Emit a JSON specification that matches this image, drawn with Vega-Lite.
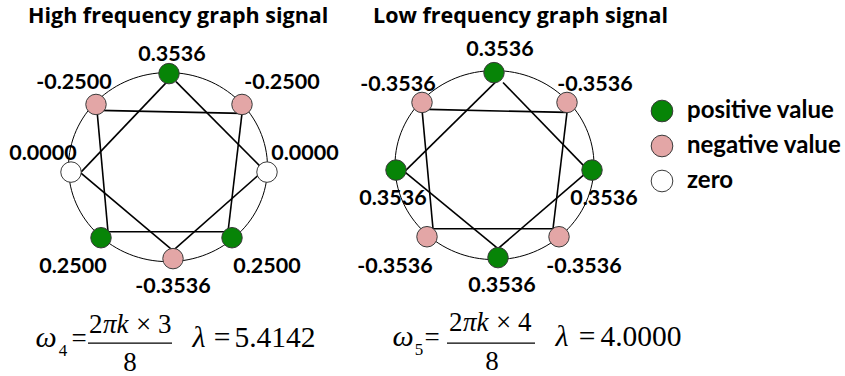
{
  "$schema": "https://vega.github.io/schema/vega-lite/v6.json",
  "width": 845,
  "height": 376,
  "padding": 0,
  "autosize": {"type": "fit", "contains": "padding"},
  "background": "#ffffff",
  "config": {"view": {"stroke": null}},
  "datasets": {
    "rings": [
      {"panel": "high", "x": 168, "y": 168},
      {"panel": "low", "x": 494.5, "y": 166}
    ],
    "edges": [
      {"panel": "high", "x": 99, "y": 111, "x2": 242, "y2": 114},
      {"panel": "high", "x": 242, "y": 114, "x2": 228, "y2": 233},
      {"panel": "high", "x": 228, "y": 233, "x2": 108, "y2": 233},
      {"panel": "high", "x": 108, "y": 233, "x2": 97, "y2": 111},
      {"panel": "high", "x": 171, "y": 78, "x2": 81, "y2": 173},
      {"panel": "high", "x": 176, "y": 82, "x2": 263, "y2": 170},
      {"panel": "high", "x": 263, "y": 172, "x2": 173, "y2": 252},
      {"panel": "high", "x": 173, "y": 252, "x2": 81, "y2": 174},
      {"panel": "low", "x": 428, "y": 110, "x2": 567, "y2": 113},
      {"panel": "low", "x": 567, "y": 113, "x2": 553, "y2": 230},
      {"panel": "low", "x": 553, "y": 230, "x2": 433, "y2": 230},
      {"panel": "low", "x": 433, "y": 230, "x2": 422, "y2": 110},
      {"panel": "low", "x": 496, "y": 82, "x2": 405, "y2": 172},
      {"panel": "low", "x": 503, "y": 83, "x2": 587, "y2": 170},
      {"panel": "low", "x": 587, "y": 173, "x2": 498, "y2": 250},
      {"panel": "low", "x": 498, "y": 250, "x2": 405, "y2": 173}
    ],
    "nodes": [
      {"panel": "high", "node": 0, "x": 169, "y": 74, "value": 0.3536, "sign": "positive value"},
      {"panel": "high", "node": 1, "x": 242, "y": 105, "value": -0.25, "sign": "negative value"},
      {"panel": "high", "node": 2, "x": 267, "y": 173, "value": 0.0, "sign": "zero"},
      {"panel": "high", "node": 3, "x": 232, "y": 239, "value": 0.25, "sign": "positive value"},
      {"panel": "high", "node": 4, "x": 173, "y": 260, "value": -0.3536, "sign": "negative value"},
      {"panel": "high", "node": 5, "x": 101, "y": 239, "value": 0.25, "sign": "positive value"},
      {"panel": "high", "node": 6, "x": 71, "y": 173, "value": 0.0, "sign": "zero"},
      {"panel": "high", "node": 7, "x": 96, "y": 105, "value": -0.25, "sign": "negative value"},
      {"panel": "low", "node": 0, "x": 494, "y": 73, "value": 0.3536, "sign": "positive value"},
      {"panel": "low", "node": 1, "x": 567, "y": 103, "value": -0.3536, "sign": "negative value"},
      {"panel": "low", "node": 2, "x": 592, "y": 171, "value": 0.3536, "sign": "positive value"},
      {"panel": "low", "node": 3, "x": 559, "y": 238, "value": -0.3536, "sign": "negative value"},
      {"panel": "low", "node": 4, "x": 498, "y": 259, "value": 0.3536, "sign": "positive value"},
      {"panel": "low", "node": 5, "x": 427, "y": 238, "value": -0.3536, "sign": "negative value"},
      {"panel": "low", "node": 6, "x": 396, "y": 171, "value": 0.3536, "sign": "positive value"},
      {"panel": "low", "node": 7, "x": 422, "y": 103, "value": -0.3536, "sign": "negative value"}
    ],
    "labels": [
      {"text": "0.3536", "x": 172, "y": 55},
      {"text": "-0.2500", "x": 74, "y": 83},
      {"text": "-0.2500", "x": 282, "y": 83},
      {"text": "0.0000", "x": 43, "y": 155},
      {"text": "0.0000", "x": 305, "y": 155},
      {"text": "0.2500", "x": 73, "y": 268},
      {"text": "0.2500", "x": 267, "y": 268},
      {"text": "-0.3536", "x": 173, "y": 289},
      {"text": "0.3536", "x": 500, "y": 50},
      {"text": "-0.3536", "x": 398, "y": 85},
      {"text": "-0.3536", "x": 595, "y": 85},
      {"text": "0.3536", "x": 393, "y": 200},
      {"text": "0.3536", "x": 604, "y": 200},
      {"text": "-0.3536", "x": 395, "y": 268},
      {"text": "-0.3536", "x": 584, "y": 268},
      {"text": "0.3536", "x": 502, "y": 288}
    ],
    "titles": [
      {"text": "High frequency graph signal", "x": 28, "y": 23},
      {"text": "Low frequency graph signal", "x": 373, "y": 23}
    ],
    "mathItalic": [
      {"text": "ω", "x": 46, "y": 349},
      {"text": "ω", "x": 403, "y": 348},
      {"text": "λ", "x": 199, "y": 349},
      {"text": "λ", "x": 562, "y": 348}
    ],
    "mathRoman": [
      {"text": "=", "x": 222, "y": 349},
      {"text": "5.4142", "x": 275, "y": 349},
      {"text": "=", "x": 587, "y": 348},
      {"text": "4.0000", "x": 641, "y": 348}
    ],
    "mathSmall": [
      {"text": "=", "x": 79, "y": 349},
      {"text": "8", "x": 130, "y": 373},
      {"text": "=", "x": 432, "y": 348},
      {"text": "8", "x": 492, "y": 372}
    ],
    "numRoman": [
      {"text": "2", "x": 89, "y": 335},
      {"text": "× 3", "x": 136, "y": 335},
      {"text": "2", "x": 449, "y": 333},
      {"text": "× 4", "x": 496, "y": 333}
    ],
    "numItalic": [
      {"text": "πk", "x": 103, "y": 335},
      {"text": "πk", "x": 463, "y": 333}
    ],
    "mathSub": [
      {"text": "4", "x": 63, "y": 358},
      {"text": "5", "x": 419, "y": 357}
    ],
    "bars": [
      {"x": 88, "x2": 172, "y": 345},
      {"x": 447, "x2": 535, "y": 345}
    ]
  },
  "encoding": {
    "x": {"field": "x", "type": "quantitative", "scale": {"domain": [0, 845], "nice": false, "zero": false}, "axis": null},
    "y": {"field": "y", "type": "quantitative", "scale": {"domain": [0, 376], "nice": false, "zero": false, "reverse": true}, "axis": null}
  },
  "layer": [
    {
      "data": {"name": "rings"},
      "mark": {"type": "point", "shape": "M -1 0 A 1 0.95 0 1 1 1 0 A 1 0.95 0 1 1 -1 0 Z", "size": 39600, "filled": false, "stroke": "#000000", "strokeWidth": 1, "opacity": 1}
    },
    {
      "data": {"name": "edges"},
      "mark": {"type": "rule", "stroke": "#000000", "strokeWidth": 1.6},
      "encoding": {
        "x2": {"field": "x2"},
        "y2": {"field": "y2"}
      }
    },
    {
      "data": {"name": "nodes"},
      "mark": {"type": "point", "shape": "circle", "size": 420, "filled": true, "stroke": "#3a3a3a", "strokeWidth": 1, "opacity": 1},
      "encoding": {
        "fill": {
          "field": "sign", "type": "nominal",
          "scale": {"domain": ["positive value", "negative value", "zero"], "range": ["#078407", "#e3a6a6", "#ffffff"]},
          "legend": {
            "orient": "none", "legendX": 650, "legendY": 99, "title": null, "padding": 0,
            "symbolType": "circle", "symbolSize": 470, "symbolStrokeColor": "#3a3a3a", "symbolStrokeWidth": 1, "symbolOpacity": 1,
            "labelFont": "Lato", "labelFontWeight": "bold", "labelFontSize": 24, "labelColor": "#000000", "labelOffset": 13,
            "rowPadding": 9
          }
        }
      }
    },
    {
      "data": {"name": "labels"},
      "mark": {"type": "text", "font": "Lato", "fontWeight": "bold", "fontSize": 21.5, "align": "center", "baseline": "middle", "color": "#000000"},
      "encoding": {"text": {"field": "text"}}
    },
    {
      "data": {"name": "titles"},
      "mark": {"type": "text", "font": "Open Sans", "fontWeight": "bold", "fontSize": 21.5, "align": "left", "baseline": "alphabetic", "color": "#000000"},
      "encoding": {"text": {"field": "text"}}
    },
    {
      "data": {"name": "mathItalic"},
      "mark": {"type": "text", "font": "Liberation Serif", "fontStyle": "italic", "fontSize": 30, "align": "center", "baseline": "alphabetic", "color": "#000000"},
      "encoding": {"text": {"field": "text"}}
    },
    {
      "data": {"name": "mathRoman"},
      "mark": {"type": "text", "font": "Liberation Serif", "fontSize": 29.5, "align": "center", "baseline": "alphabetic", "color": "#000000"},
      "encoding": {"text": {"field": "text"}}
    },
    {
      "data": {"name": "mathSmall"},
      "mark": {"type": "text", "font": "Liberation Serif", "fontSize": 27, "align": "center", "baseline": "alphabetic", "color": "#000000"},
      "encoding": {"text": {"field": "text"}}
    },
    {
      "data": {"name": "numRoman"},
      "mark": {"type": "text", "font": "Liberation Serif", "fontSize": 27, "align": "left", "baseline": "alphabetic", "color": "#000000"},
      "encoding": {"text": {"field": "text"}}
    },
    {
      "data": {"name": "numItalic"},
      "mark": {"type": "text", "font": "Liberation Serif", "fontStyle": "italic", "fontSize": 27, "align": "left", "baseline": "alphabetic", "color": "#000000"},
      "encoding": {"text": {"field": "text"}}
    },
    {
      "data": {"name": "mathSub"},
      "mark": {"type": "text", "font": "Liberation Serif", "fontSize": 17, "align": "center", "baseline": "alphabetic", "color": "#000000"},
      "encoding": {"text": {"field": "text"}}
    },
    {
      "data": {"name": "bars"},
      "mark": {"type": "rule", "stroke": "#000000", "strokeWidth": 1.2},
      "encoding": {"x2": {"field": "x2"}}
    }
  ]
}
